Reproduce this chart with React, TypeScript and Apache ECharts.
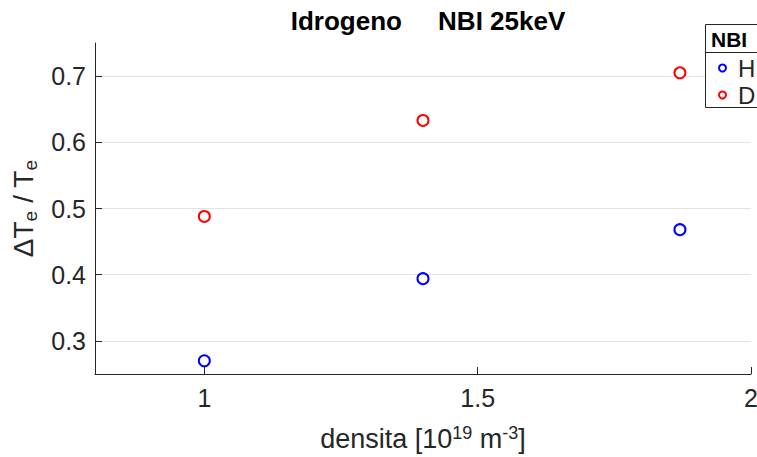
import React, { useEffect, useRef } from "react";
import * as echarts from "echarts";

const densita = [1, 1.4, 1.87];
const seriesH = [0.27, 0.394, 0.468];
const seriesD = [0.488, 0.633, 0.705];
const xTicks = [1, 1.5, 2];
const yTicks = [0.3, 0.4, 0.5, 0.6, 0.7];
const seriesNames = ["H", "D"];
const seriesColors = ["#0000FF", "#FF0000"];

const FONT = "'Liberation Sans', Arial, Helvetica, sans-serif";
const TXT = "#262626";

export default function App() {
  const ref = useRef<HTMLDivElement>(null);
  useEffect(() => {
    if (!ref.current) return;
    const chart = echarts.init(ref.current, null, { renderer: "svg" });
    const values = [seriesH, seriesD];
    chart.setOption({
      animation: false,
      backgroundColor: "#ffffff",
      textStyle: { fontFamily: FONT },
      title: {
        text: "Idrogeno     NBI 25keV",
        left: 423,
        textAlign: "center",
        top: 3,
        textStyle: { fontFamily: FONT, fontSize: 26, fontWeight: "bold", color: "#000" },
      },
      grid: { left: 95, right: 6, top: 43, bottom: 83, containLabel: false, outerBoundsMode: "none" },
      xAxis: {
        type: "value",
        min: 0.8,
        max: 2,
        name: "{t|densita [10}{sup|19}{t| m}{sup|-3}{t|]}",
        nameLocation: "middle",
        nameGap: 50,
        nameTextStyle: {
          rich: {
            t: { fontFamily: FONT, fontSize: 27, color: TXT },
            sup: { fontFamily: FONT, fontSize: 18, color: TXT, verticalAlign: "top", padding: [0, 0, 12, 0] },
          },
        },
        axisLine: { show: true, onZero: false, lineStyle: { color: "#262626", width: 1 } },
        axisTick: { show: true, inside: true, length: 7, customValues: xTicks, lineStyle: { color: "#262626" } },
        axisLabel: {
          customValues: xTicks,
          fontFamily: FONT,
          fontSize: 25,
          color: TXT,
          margin: 11,
          formatter: (v: number) => String(v),
        },
        splitLine: { show: false },
      },
      yAxis: {
        type: "value",
        min: 0.25,
        max: 0.75,
        name: "{t|ΔT}{sub|e}{t| / T}{sub|e}",
        nameLocation: "middle",
        nameRotate: 90,
        nameGap: 50,
        nameTextStyle: {
          rich: {
            t: { fontFamily: FONT, fontSize: 28, color: TXT },
            sub: { fontFamily: FONT, fontSize: 19, color: TXT, verticalAlign: "bottom", padding: [14, 0, 0, 0] },
          },
        },
        axisLine: { show: true, onZero: false, lineStyle: { color: "#262626", width: 1 } },
        axisTick: { show: true, inside: true, length: 7, customValues: yTicks, lineStyle: { color: "#262626" } },
        axisLabel: {
          customValues: yTicks,
          fontFamily: FONT,
          fontSize: 25,
          color: TXT,
          margin: 9,
          formatter: (v: number) => v.toFixed(1),
        },
        splitLine: { show: true, lineStyle: { color: "#e3e3e3", width: 1 } },
      },
      legend: {
        data: seriesNames,
        orient: "vertical",
        left: 718,
        top: 56,
        padding: 0,
        itemWidth: 7,
        itemHeight: 7,
        itemGap: 3,
        icon: "emptyCircle",
        textStyle: { fontFamily: FONT, fontSize: 24, color: TXT, padding: [0, 0, 0, 7] },
      },
      graphic: [
        { type: "rect", shape: { x: 705.5, y: 24.5, width: 60, height: 83 }, style: { fill: "#fff", stroke: "#262626", lineWidth: 1 }, z: 1 },
        { type: "line", shape: { x1: 705.5, y1: 52.5, x2: 760, y2: 52.5 }, style: { stroke: "#262626", lineWidth: 1 }, z: 2 },
        { type: "text", x: 711, y: 29, style: { text: "NBI", fontFamily: FONT, fontSize: 21, fontWeight: "bold", fill: "#000" }, z: 2 },
      ],
      series: seriesNames.map((name, i) => ({
        name,
        type: "scatter",
        symbol: "emptyCircle",
        symbolSize: 11,
        itemStyle: { color: seriesColors[i], borderColor: seriesColors[i], borderWidth: 2.4, opacity: 1 },
        data: densita.map((x, j) => [x, values[i][j]]),
      })),
    });
    return () => chart.dispose();
  }, []);
  return <div ref={ref} style={{ width: 757, height: 457, position: "absolute", left: 0, top: 0 }} />;
}
